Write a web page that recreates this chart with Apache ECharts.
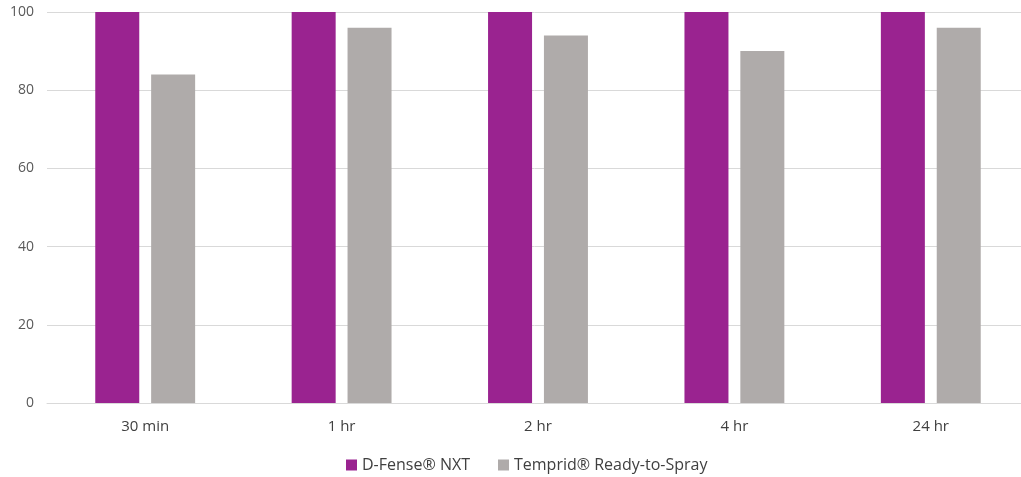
<!DOCTYPE html>
<html><head><meta charset="utf-8">
<script src="https://cdn.jsdelivr.net/npm/echarts@6/dist/echarts.min.js"></script>
<style>html,body{margin:0;padding:0;background:#fff}#c{width:1021px;height:477px}</style>
</head><body><div id="c"></div>
<script>
var categories = ['30 min', '1 hr', '2 hr', '4 hr', '24 hr'];
var dfenseValues = [100, 100, 100, 100, 100];
var tempridValues = [84, 96, 94, 90, 96];
var seriesNames = ['D-Fense\u00AE NXT', 'Temprid\u00AE Ready-to-Spray'];
var yTicks = [0, 20, 40, 60, 80, 100];

var chart = echarts.init(document.getElementById('c'));
chart.setOption({
  animation: false,
  grid: {left: 47, width: 982, top: 12, height: 391, containLabel: false, outerBoundsMode: 'none'},
  legend: {
    top: 452, left: 341, itemWidth: 11, itemHeight: 11, itemGap: 28,
    icon: 'rect',
    textStyle: {fontFamily: 'Open Sans', fontSize: 16, color: '#404040'},
    data: seriesNames
  },
  xAxis: {
    type: 'category', data: categories,
    axisLine: {lineStyle: {color: '#D9D9D9', width: 1}},
    axisTick: {show: false},
    axisLabel: {margin: 16, fontFamily: 'Open Sans', fontSize: 15, color: '#404040'}
  },
  yAxis: {
    type: 'value', min: yTicks[0], max: yTicks[yTicks.length - 1], interval: 20,
    axisLine: {show: false}, axisTick: {show: false},
    splitLine: {lineStyle: {color: '#D9D9D9', width: 1}},
    axisLabel: {margin: 13, fontFamily: 'Open Sans', fontSize: 14, color: '#595959'}
  },
  series: [
    {name: seriesNames[0], type: 'bar', data: dfenseValues, barWidth: 44, barGap: '27%',
     itemStyle: {color: '#9A2390'}},
    {name: seriesNames[1], type: 'bar', data: tempridValues, barWidth: 44,
     itemStyle: {color: '#AFABAA'}}
  ]
});
</script></body></html>
